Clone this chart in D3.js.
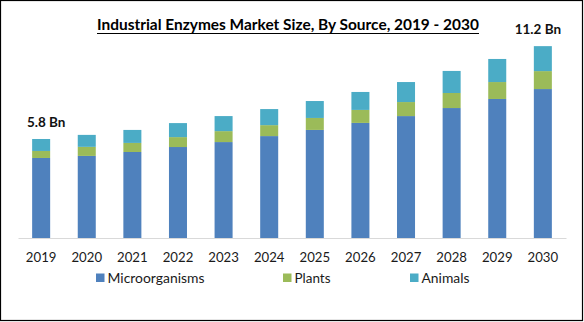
<!DOCTYPE html>
<html>
<head>
<meta charset="utf-8">
<script src="https://cdn.jsdelivr.net/npm/d3@7"></script>
<style>
  html, body { margin: 0; padding: 0; background: #fff; }
  svg { display: block; }
</style>
</head>
<body>
<svg id="chart" width="584" height="322"></svg>
<script>
const years = ['2019','2020','2021','2022','2023','2024','2025','2026','2027','2028','2029','2030'];
const microorganisms = [4.68,4.80,5.03,5.32,5.61,5.96,6.32,6.73,7.13,7.60,8.13,8.71];
const plants = [0.41,0.53,0.53,0.58,0.64,0.64,0.70,0.76,0.82,0.88,0.99,1.05];
const animals = [0.70,0.70,0.76,0.82,0.88,0.94,0.99,1.05,1.17,1.29,1.35,1.46];
const seriesNames = ['Microorganisms','Plants','Animals'];
const colors = ['#4f81bd','#9bbb59','#4bacc6'];
const title = 'Industrial Enzymes Market Size, By Source, 2019 - 2030';
const annotations = [{year:'2019', text:'5.8 Bn'}, {year:'2030', text:'11.2 Bn'}];

const svg = d3.select('#chart');
const font = 'Lato, Open Sans, sans-serif';

// border
svg.append('rect').attr('x',0.5).attr('y',0.5).attr('width',582).attr('height',320)
  .attr('fill','#fff').attr('stroke','#000').attr('stroke-width',1.2);

const table = years.map((y,i)=>({year:y, Microorganisms:microorganisms[i], Plants:plants[i], Animals:animals[i]}));
const stack = d3.stack().keys(seriesNames)(table);

const x = d3.scaleBand().domain(years).range([18,566]).paddingInner(0.605).paddingOuter(0.31);
const y = d3.scaleLinear().domain([0,12]).range([238, 238-12*17.1]);

function fit(sel, target) {
  const w = sel.node().getComputedTextLength();
  const fs = parseFloat(sel.attr('font-size'));
  sel.attr('font-size', fs*target/w);
}

// bars
svg.append('g').selectAll('g').data(stack).join('g')
  .attr('fill',(d,i)=>colors[i])
  .selectAll('rect').data(d=>d).join('rect')
  .attr('x',d=>x(d.data.year))
  .attr('width',x.bandwidth())
  .attr('y',d=>y(d[1]))
  .attr('height',d=>y(d[0])-y(d[1]));

// axis
const ax = svg.append('g').attr('transform','translate(0,238)')
  .call(d3.axisBottom(x).tickSize(0).tickSizeOuter(0).tickPadding(0));
ax.select('.domain').attr('stroke','#d9d9d9').attr('stroke-width',1);
ax.selectAll('.tick text').attr('font-family',font).attr('font-size',13.2)
  .attr('fill','#1a1a1a').attr('dy',null).attr('y',24);

// annotations
const totals = years.map((yr,i)=>microorganisms[i]+plants[i]+animals[i]);
annotations.forEach(a=>{
  const i = years.indexOf(a.year);
  const off = i===0 ? 5 : -5;
  const tt = svg.append('text').attr('x', x(a.year)+x.bandwidth()/2+off)
    .attr('y', y(totals[i]) - 12)
    .attr('text-anchor','middle').attr('font-family',font).attr('font-weight','bold')
    .attr('font-size',13.5).attr('fill','#111').text(a.text);
});

// title
const t = svg.append('text').attr('x',97).attr('y',29.5)
  .attr('font-family',font).attr('font-weight','bold').attr('font-size',15)
  .attr('fill','#000').text(title);
fit(t, 382);
svg.append('line').attr('x1',97).attr('x2',479).attr('y1',33.5).attr('y2',33.5)
  .attr('stroke','#000').attr('stroke-width',1.2);

// legend
const legX = [96, 283, 410];
const legW = [97, 36, 48];
const leg = svg.append('g');
seriesNames.forEach((n,i)=>{
  leg.append('rect').attr('x',legX[i]).attr('y',273.5).attr('width',8.5).attr('height',8.5).attr('fill',colors[i]);
  const lt = leg.append('text').attr('x',legX[i]+11.5).attr('y',282.5).attr('font-family',font)
    .attr('font-size',13.5).attr('fill','#1a1a1a').text(n);
  fit(lt, legW[i]);
});
</script>
</body>
</html>
